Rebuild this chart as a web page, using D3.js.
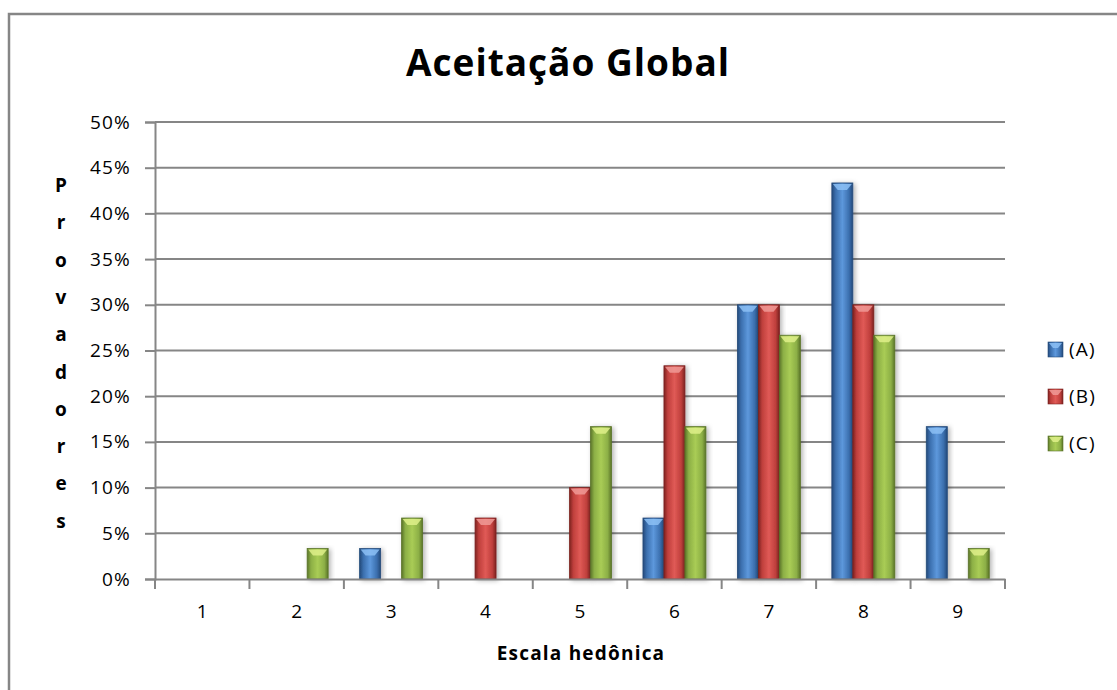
<!DOCTYPE html>
<html>
<head>
<meta charset="utf-8">
<script src="https://cdn.jsdelivr.net/npm/d3@7"></script>
<style>
  body { margin: 0; background: #fff; }
  svg { display: block; font-family: 'Open Sans', Lato, sans-serif; }
</style>
</head>
<body>
<svg width="1117" height="690"></svg>
<script>
const categories = ['1', '2', '3', '4', '5', '6', '7', '8', '9']
const seriesNames = ['(A)', '(B)', '(C)']
const valuesA = [0, 0, 0.0333, 0, 0, 0.0667, 0.30, 0.4333, 0.1667]
const valuesB = [0, 0, 0, 0.0667, 0.10, 0.2333, 0.30, 0.30, 0]
const valuesC = [0, 0.0333, 0.0667, 0, 0.1667, 0.1667, 0.2667, 0.2667, 0.0333]
const yTicks = [0, 0.05, 0.10, 0.15, 0.20, 0.25, 0.30, 0.35, 0.40, 0.45, 0.50]

const palette = [
    { base: '#3b6fae', light: '#5d98dc', dark: '#244a7a', bevel: '#8cc0f5' },
    { base: '#bf3f3c', light: '#e05a56', dark: '#7d2220', bevel: '#f09a96' },
    { base: '#8caf46', light: '#a9cc55', dark: '#5a7428', bevel: '#dff08a' }
]

const svg = d3.select('svg')
const width = 1117
const height = 690
const plot = { left: 155, right: 1005, top: 122, bottom: 579 }
const grey = '#868686'
const labelSize = 19
const spacing = 1.2

// outer chart border
svg.append('rect')
    .attr('x', 9).attr('y', 14)
    .attr('width', width + 20).attr('height', height + 20)
    .attr('fill', 'none').attr('stroke', grey).attr('stroke-width', 2.5)

const defs = svg.append('defs')
palette.forEach((c, i) => {
    const g = defs.append('linearGradient').attr('id', 'grad' + i)
        .attr('x1', '0%').attr('x2', '100%').attr('y1', '0%').attr('y2', '0%')
    g.append('stop').attr('offset', '0%').attr('stop-color', c.dark)
    g.append('stop').attr('offset', '18%').attr('stop-color', c.base)
    g.append('stop').attr('offset', '50%').attr('stop-color', c.light)
    g.append('stop').attr('offset', '82%').attr('stop-color', c.base)
    g.append('stop').attr('offset', '100%').attr('stop-color', c.dark)
})
const shadow = defs.append('filter').attr('id', 'shadow')
    .attr('x', '-30%').attr('y', '-10%').attr('width', '160%').attr('height', '130%')
shadow.append('feDropShadow').attr('dx', 2).attr('dy', 1).attr('stdDeviation', 2.5)
    .attr('flood-color', '#000').attr('flood-opacity', 0.3)

const x = d3.scaleBand().domain(categories).range([plot.left, plot.right])
const y = d3.scaleLinear().domain([0, 0.5]).range([plot.bottom, plot.top])

// gridlines
svg.append('g').selectAll('line').data(yTicks.slice(1)).join('line')
    .attr('x1', plot.left).attr('x2', plot.right)
    .attr('y1', d => y(d)).attr('y2', d => y(d))
    .attr('stroke', grey).attr('stroke-width', 2)

// y axis
const yAxis = svg.append('g').attr('transform', `translate(${plot.left},0)`)
    .call(d3.axisLeft(y).tickValues(yTicks).tickFormat(d3.format('.0%')).tickSize(10).tickPadding(14))
yAxis.select('.domain').attr('stroke', grey).attr('stroke-width', 2)
yAxis.selectAll('.tick line').attr('stroke', grey).attr('stroke-width', 2)
yAxis.selectAll('.tick text').attr('font-size', labelSize).attr('fill', '#000')
    .attr('font-family', "'Open Sans', sans-serif").attr('letter-spacing', spacing)

// bars
const seriesValues = [valuesA, valuesB, valuesC]
const inner = d3.scaleBand().domain(d3.range(3))
    .range([0, x.bandwidth()]).paddingInner(0).paddingOuter(0.75)
const bars = []
seriesValues.forEach((vals, s) => vals.forEach((v, i) => {
    if (v > 0) bars.push({ s, cat: categories[i], v })
}))
const barG = svg.append('g').selectAll('g').data(bars).join('g')
    .attr('transform', d => `translate(${x(d.cat) + inner(d.s)},0)`)
barG.append('rect')
    .attr('x', 0).attr('y', d => y(d.v))
    .attr('width', inner.bandwidth()).attr('height', d => y(0) - y(d.v))
    .attr('fill', d => `url(#grad${d.s})`)
    .attr('stroke', d => palette[d.s].dark).attr('stroke-width', 0.8)
    .attr('filter', 'url(#shadow)')
barG.append('path')
    .attr('d', d => {
        const w = inner.bandwidth()
        const t = y(d.v)
        return `M1,${t + 1}L${w - 1},${t + 1}L${w * 0.72},${t + 7}L${w * 0.28},${t + 7}Z`
    })
    .attr('fill', d => palette[d.s].bevel).attr('opacity', 0.85)

// x axis
const xAxis = svg.append('g').attr('transform', `translate(0,${plot.bottom})`)
    .call(d3.axisBottom(x).tickSize(0).tickPadding(26))
xAxis.select('.domain').attr('stroke', grey).attr('stroke-width', 2)
xAxis.selectAll('.tick text').attr('font-size', labelSize).attr('fill', '#000')
    .attr('font-family', "'Open Sans', sans-serif")
xAxis.append('g').selectAll('line').data(d3.range(categories.length + 1)).join('line')
    .attr('x1', i => plot.left + i * x.bandwidth()).attr('x2', i => plot.left + i * x.bandwidth())
    .attr('y1', 0).attr('y2', 10)
    .attr('stroke', grey).attr('stroke-width', 2)

// titles
svg.append('text').attr('x', 568).attr('y', 76).attr('text-anchor', 'middle')
    .attr('font-size', 37).attr('font-weight', 'bold').attr('letter-spacing', 1)
    .text('Aceitação Global')
svg.append('text').attr('x', 581).attr('y', 660).attr('text-anchor', 'middle')
    .attr('font-size', labelSize).attr('font-weight', 'bold').attr('letter-spacing', 1.2)
    .text('Escala hedônica')
const yTitle = 'Provadores'.split('')
svg.append('g').selectAll('text').data(yTitle).join('text')
    .attr('x', 61).attr('y', (d, i) => 192 + i * 37.3).attr('text-anchor', 'middle')
    .attr('font-size', labelSize).attr('font-weight', 'bold').text(d => d)

// legend
const legend = svg.append('g').selectAll('g').data(seriesNames).join('g')
    .attr('transform', (d, i) => `translate(1048,${342 + i * 47})`)
legend.append('rect').attr('width', 15).attr('height', 15)
    .attr('fill', (d, i) => `url(#grad${i})`)
    .attr('stroke', (d, i) => palette[i].dark).attr('stroke-width', 0.6)
legend.append('path').attr('d', 'M1,1L14,1L10,6L5,6Z')
    .attr('fill', (d, i) => palette[i].bevel).attr('opacity', 0.85)
legend.append('text').attr('x', 21).attr('y', 14)
    .attr('font-size', labelSize).attr('letter-spacing', spacing).text(d => d)
</script>
</body>
</html>
